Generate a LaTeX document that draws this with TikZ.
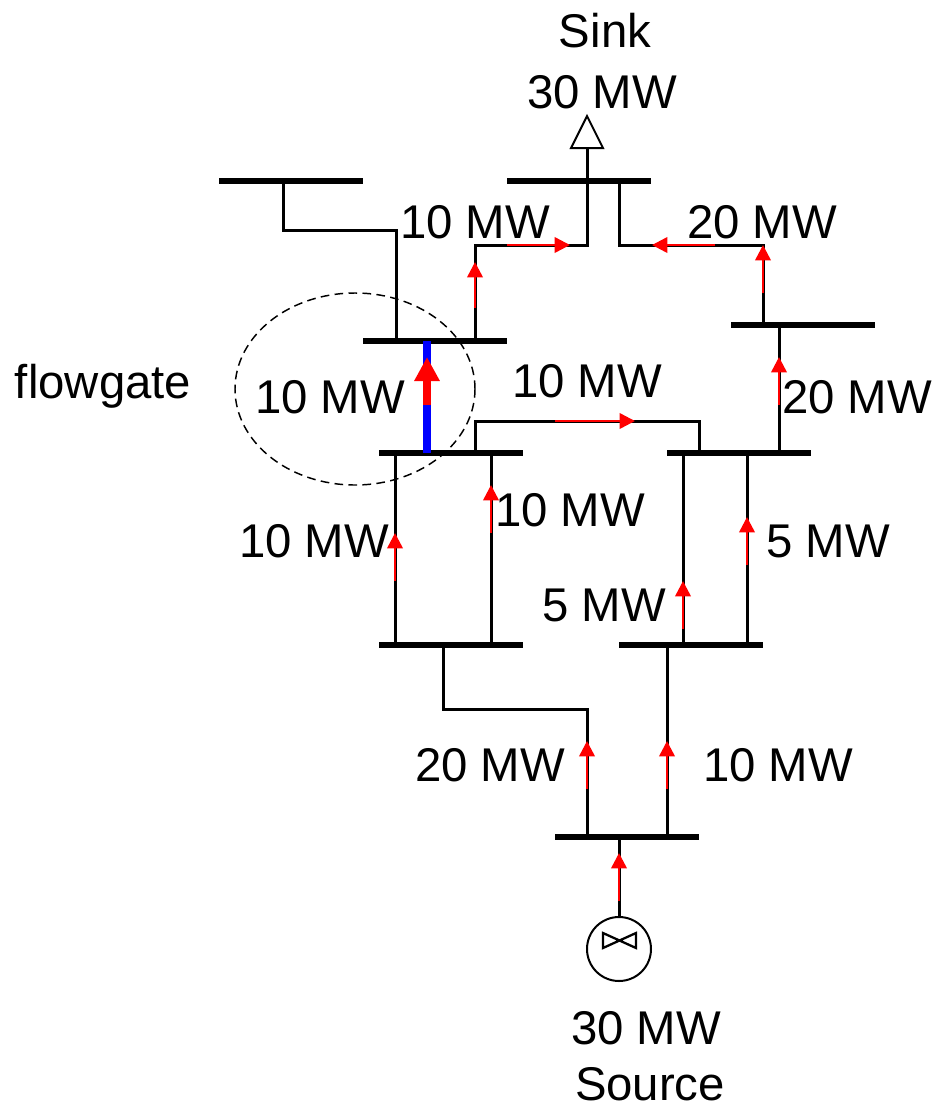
\documentclass[tikz,border=0pt]{standalone}
\usepackage{fontspec}
\setmainfont{Liberation Sans}
\usetikzlibrary{arrows.meta,shapes.geometric}
\definecolor{flowRed}{HTML}{FF0000}
\definecolor{gateBlue}{HTML}{0000FF}

\begin{document}
\begin{tikzpicture}[x=0.75pt, y=-0.75pt, font=\fontsize{35.5}{42}\selectfont,
      busbar/.style={fill=black, inner sep=0pt, minimum width=108pt, minimum height=4.5pt},
      wire/.style={line width=2.25pt, black},
      flow/.style={line width=1.9pt, flowRed, -{Triangle[width=11.5pt,length=11.5pt]}},
      gateline/.style={line width=6pt, gateBlue},
      gateflow/.style={line width=6pt, flowRed, -{Triangle[width=18pt,length=18pt]}},
      gatering/.style={draw, dash pattern=on 6.5pt off 4pt, line width=1.1pt, ellipse, minimum width=180pt, minimum height=144pt, inner sep=0pt},
      lab/.style={inner sep=0pt, text depth=0pt}]
    \useasboundingbox[fill=white] (0,0) rectangle (937,1104);

    \node[busbar] (busNW) at (291,181) {};
    \node[busbar] (busN) at (579,181) {};
    \node[busbar] (busNE) at (803,325) {};
    \node[busbar] (busGateUp) at (435,341) {};
    \node[busbar] (busGateLow) at (451,453) {};
    \node[busbar] (busE) at (739,453) {};
    \node[busbar] (busSW) at (451,645) {};
    \node[busbar] (busSE) at (691,645) {};
    \node[busbar] (busS) at (627,837) {};
    \node[draw, circle, line width=1.5pt, inner sep=0pt, minimum size=48pt] (gen) at (619,949) {};
    \node[draw, fill=white, line width=1.5pt, inner sep=0pt, anchor=lower side, isosceles triangle,
          isosceles triangle stretches, shape border rotate=90, minimum width=24pt, minimum height=24pt] (sink) at (587,149) {};
    \node[gatering] (gate) at (355,389) {};

    \foreach \tapname/\tapx/\tapy in {a/283/181, b/396/341, c/587/181, d/475/341, e/619/181, f/763/325,
        g/779/325, h/779/453, i/475/453, j/699/453, k/395/453, l/395/645, m/491/453, n/491/645,
        o/683/453, p/683/645, q/747/453, r/747/645, s/443/645, t/587/837, u/667/645, v/667/837,
        w/619/837, gu/427/341, gl/427/453}
      \coordinate (\tapname) at (\tapx,\tapy);

    \draw[wire] (a) |- (396,230) -- (b);
    \draw[wire] (sink.lower side) -- (c);
    \draw[wire] (c) -- (587,245) -- (475,245) -- (d);
    \draw[wire] (e) -- (619,245) -- (763,245) -- (f);
    \draw[wire] (g) -- (h);
    \draw[wire] (i) -- (475,421) -- (699,421) -- (j);
    \draw[wire] (k) -- (l);
    \draw[wire] (m) -- (n);
    \draw[wire] (o) -- (p);
    \draw[wire] (q) -- (r);
    \draw[wire] (s) -- (443,709) -- (587,709) -- (t);
    \draw[wire] (u) -- (v);
    \draw[wire] (w) -- (gen);
    \draw[gateline] (gu) -- (gl);
    \draw[line width=1.7pt] (603,933) -- (603,948) -- (636,933) -- (636,948) -- cycle;

    \foreach \arrname/\sx/\sy/\ex/\ey in {fa/475/308/475/262, fb/507/245/570/245, fc/715/245/652/245,
        fd/763/293/763/245, fe/779/405/779/357, ff/555/421/635/421, fg/395/581/395/533, fh/491/533/491/485,
        fi/683/629/683/581, fj/747/565/747/517, fk/587/789/587/741, fl/667/789/667/741, fm/619/901/619/853} {
      \coordinate (\arrname s) at (\sx,\sy);
      \coordinate (\arrname e) at (\ex,\ey);
      \draw[flow] (\arrname s) -- (\arrname e);
    }
    \coordinate (gs) at (427,405);
    \coordinate (ge) at (427,357);
    \draw[gateflow] (gs) -- (ge);

    \node[lab] (sinkname) at (605,30) {Sink};
    \node[lab] (sinkmw) at (602,92) {30 MW};
    \node[lab] (l1) at (475,222) {10 MW};
    \node[lab] (l2) at (762,222) {20 MW};
    \node[lab] (gatename) at (103,381) {flowgate};
    \node[lab] (l3) at (330,397) {10 MW};
    \node[lab] (l4) at (587,381) {10 MW};
    \node[lab] (l5) at (857,397) {20 MW};
    \node[lab] (l6) at (570,510) {10 MW};
    \node[lab] (l7) at (828,541) {5 MW};
    \node[lab] (l8) at (314,541) {10 MW};
    \node[lab] (l9) at (604,605) {5 MW};
    \node[lab] (l10) at (490,765) {20 MW};
    \node[lab] (l11) at (778,765) {10 MW};
    \node[lab] (srcmw) at (646,1028) {30 MW};
    \node[lab] (srcname) at (650,1084) {Source};
  \end{tikzpicture}
\end{document}
